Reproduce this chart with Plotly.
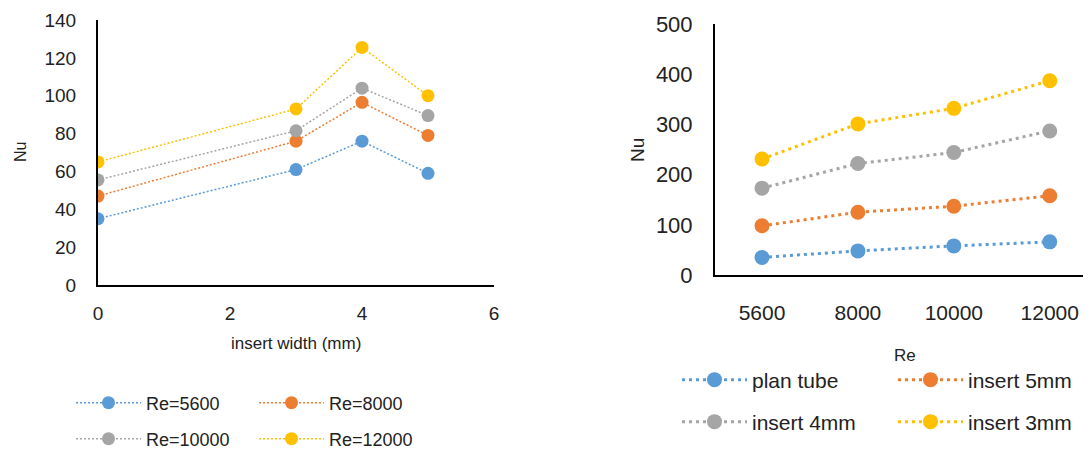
import plotly.graph_objects as go

# Left chart: Nu vs insert width for several Re
insert_width = [0, 3, 4, 5]
left_series = ["Re=5600", "Re=8000", "Re=10000", "Re=12000"]
nu_re5600 = [35, 61, 76, 59]
nu_re8000 = [47, 76, 96.5, 79]
nu_re10000 = [55.5, 81.5, 104, 89.5]
nu_re12000 = [65, 93, 125.5, 100]

# Right chart: Nu vs Re for several configurations
re_categories = ["5600", "8000", "10000", "12000"]
right_series = ["plan tube", "insert 5mm", "insert 4mm", "insert 3mm"]
nu_plan = [35, 48, 58, 66]
nu_5mm = [98, 125, 137, 158]
nu_4mm = [173, 222, 244, 287]
nu_3mm = [231, 301, 332, 387]

left_y_ticks = [0, 20, 40, 60, 80, 100, 120, 140]
left_x_ticks = [0, 2, 4, 6]
right_y_ticks = [0, 100, 200, 300, 400, 500]

colors = ["#5B9BD5", "#ED7D31", "#A5A5A5", "#FFC000"]
FONT = "Liberation Sans"
OFF = 8  # page body margin in the browser
W, H = 1091 - OFF, 451 - OFF

fig = go.Figure()

left_vals = [nu_re5600, nu_re8000, nu_re10000, nu_re12000]
for i, (name, vals) in enumerate(zip(left_series, left_vals)):
    fig.add_trace(go.Scatter(
        x=insert_width, y=vals, name=name, mode="lines+markers",
        line=dict(color=colors[i], width=1.5, dash="2px,2px"),
        marker=dict(color=colors[i], size=13),
        xaxis="x", yaxis="y",
        legend="legend" if i < 2 else "legend2",
    ))

right_vals = [nu_plan, nu_5mm, nu_4mm, nu_3mm]
for i, (name, vals) in enumerate(zip(right_series, right_vals)):
    fig.add_trace(go.Scatter(
        x=re_categories, y=vals, name=name, mode="lines+markers",
        line=dict(color=colors[i], width=3, dash="3px,4px"),
        marker=dict(color=colors[i], size=15),
        xaxis="x2", yaxis="y2",
        legend="legend3" if i < 2 else "legend4",
    ))

def px_x(p):
    return (p - OFF) / W

def px_y(p):
    return 1 - (p - OFF) / H

axis_common = dict(showgrid=False, zeroline=False, showline=True, linecolor="black",
                   linewidth=2, ticks="", color="#222222")

fig.update_layout(
    width=W, height=H,
    margin=dict(l=0, r=0, t=0, b=0, autoexpand=False),
    paper_bgcolor="white", plot_bgcolor="white",
    font=dict(family=FONT, color="#222222"),
    xaxis=dict(domain=[px_x(98), px_x(494)], range=[0, 6], tickvals=left_x_ticks,
               tickfont=dict(size=19), ticklabelstandoff=10, anchor="y", **axis_common),
    yaxis=dict(domain=[px_y(285), px_y(20)], range=[0, 140], tickvals=left_y_ticks,
               tickfont=dict(size=19), ticklabelstandoff=16, anchor="x", **axis_common),
    xaxis2=dict(domain=[px_x(715), 1.0], type="category", range=[-0.49, 3.43],
                tickfont=dict(size=21), ticklabelstandoff=18, anchor="y2", **axis_common),
    yaxis2=dict(domain=[px_y(275), px_y(24)], range=[0, 500], tickvals=right_y_ticks,
                tickfont=dict(size=22), ticklabelstandoff=16, anchor="x2", **axis_common),
    showlegend=True,
)

leg_common = dict(orientation="h", bgcolor="rgba(0,0,0,0)", itemwidth=65,
                  xanchor="left", yanchor="middle", traceorder="normal",
                  entrywidthmode="pixels", tracegroupgap=0)
fig.update_layout(
    legend=dict(x=px_x(71), y=px_y(403), entrywidth=103, font=dict(size=18), **leg_common),
    legend2=dict(x=px_x(71), y=px_y(439), entrywidth=103, font=dict(size=18), **leg_common),
    legend3=dict(x=px_x(677), y=px_y(380), entrywidth=136, font=dict(size=21), **leg_common),
    legend4=dict(x=px_x(677), y=px_y(422), entrywidth=136, font=dict(size=21), **leg_common),
)

annotations = [
    dict(text="insert width (mm)", x=px_x(296), y=px_y(343), xref="paper", yref="paper",
         showarrow=False, font=dict(size=17, color="#222222"), xanchor="center", yanchor="middle"),
    dict(text="Nu", x=px_x(20), y=px_y(152), xref="paper", yref="paper", textangle=-90,
         showarrow=False, font=dict(size=16, color="#222222"), xanchor="center", yanchor="middle"),
    dict(text="Re", x=px_x(905), y=px_y(355), xref="paper", yref="paper",
         showarrow=False, font=dict(size=17, color="#222222"), xanchor="center", yanchor="middle"),
    dict(text="Nu", x=px_x(637), y=px_y(150), xref="paper", yref="paper", textangle=-90,
         showarrow=False, font=dict(size=19, color="#222222"), xanchor="center", yanchor="middle"),
]
fig.update_layout(annotations=annotations)

fig.write_html("out.html")
